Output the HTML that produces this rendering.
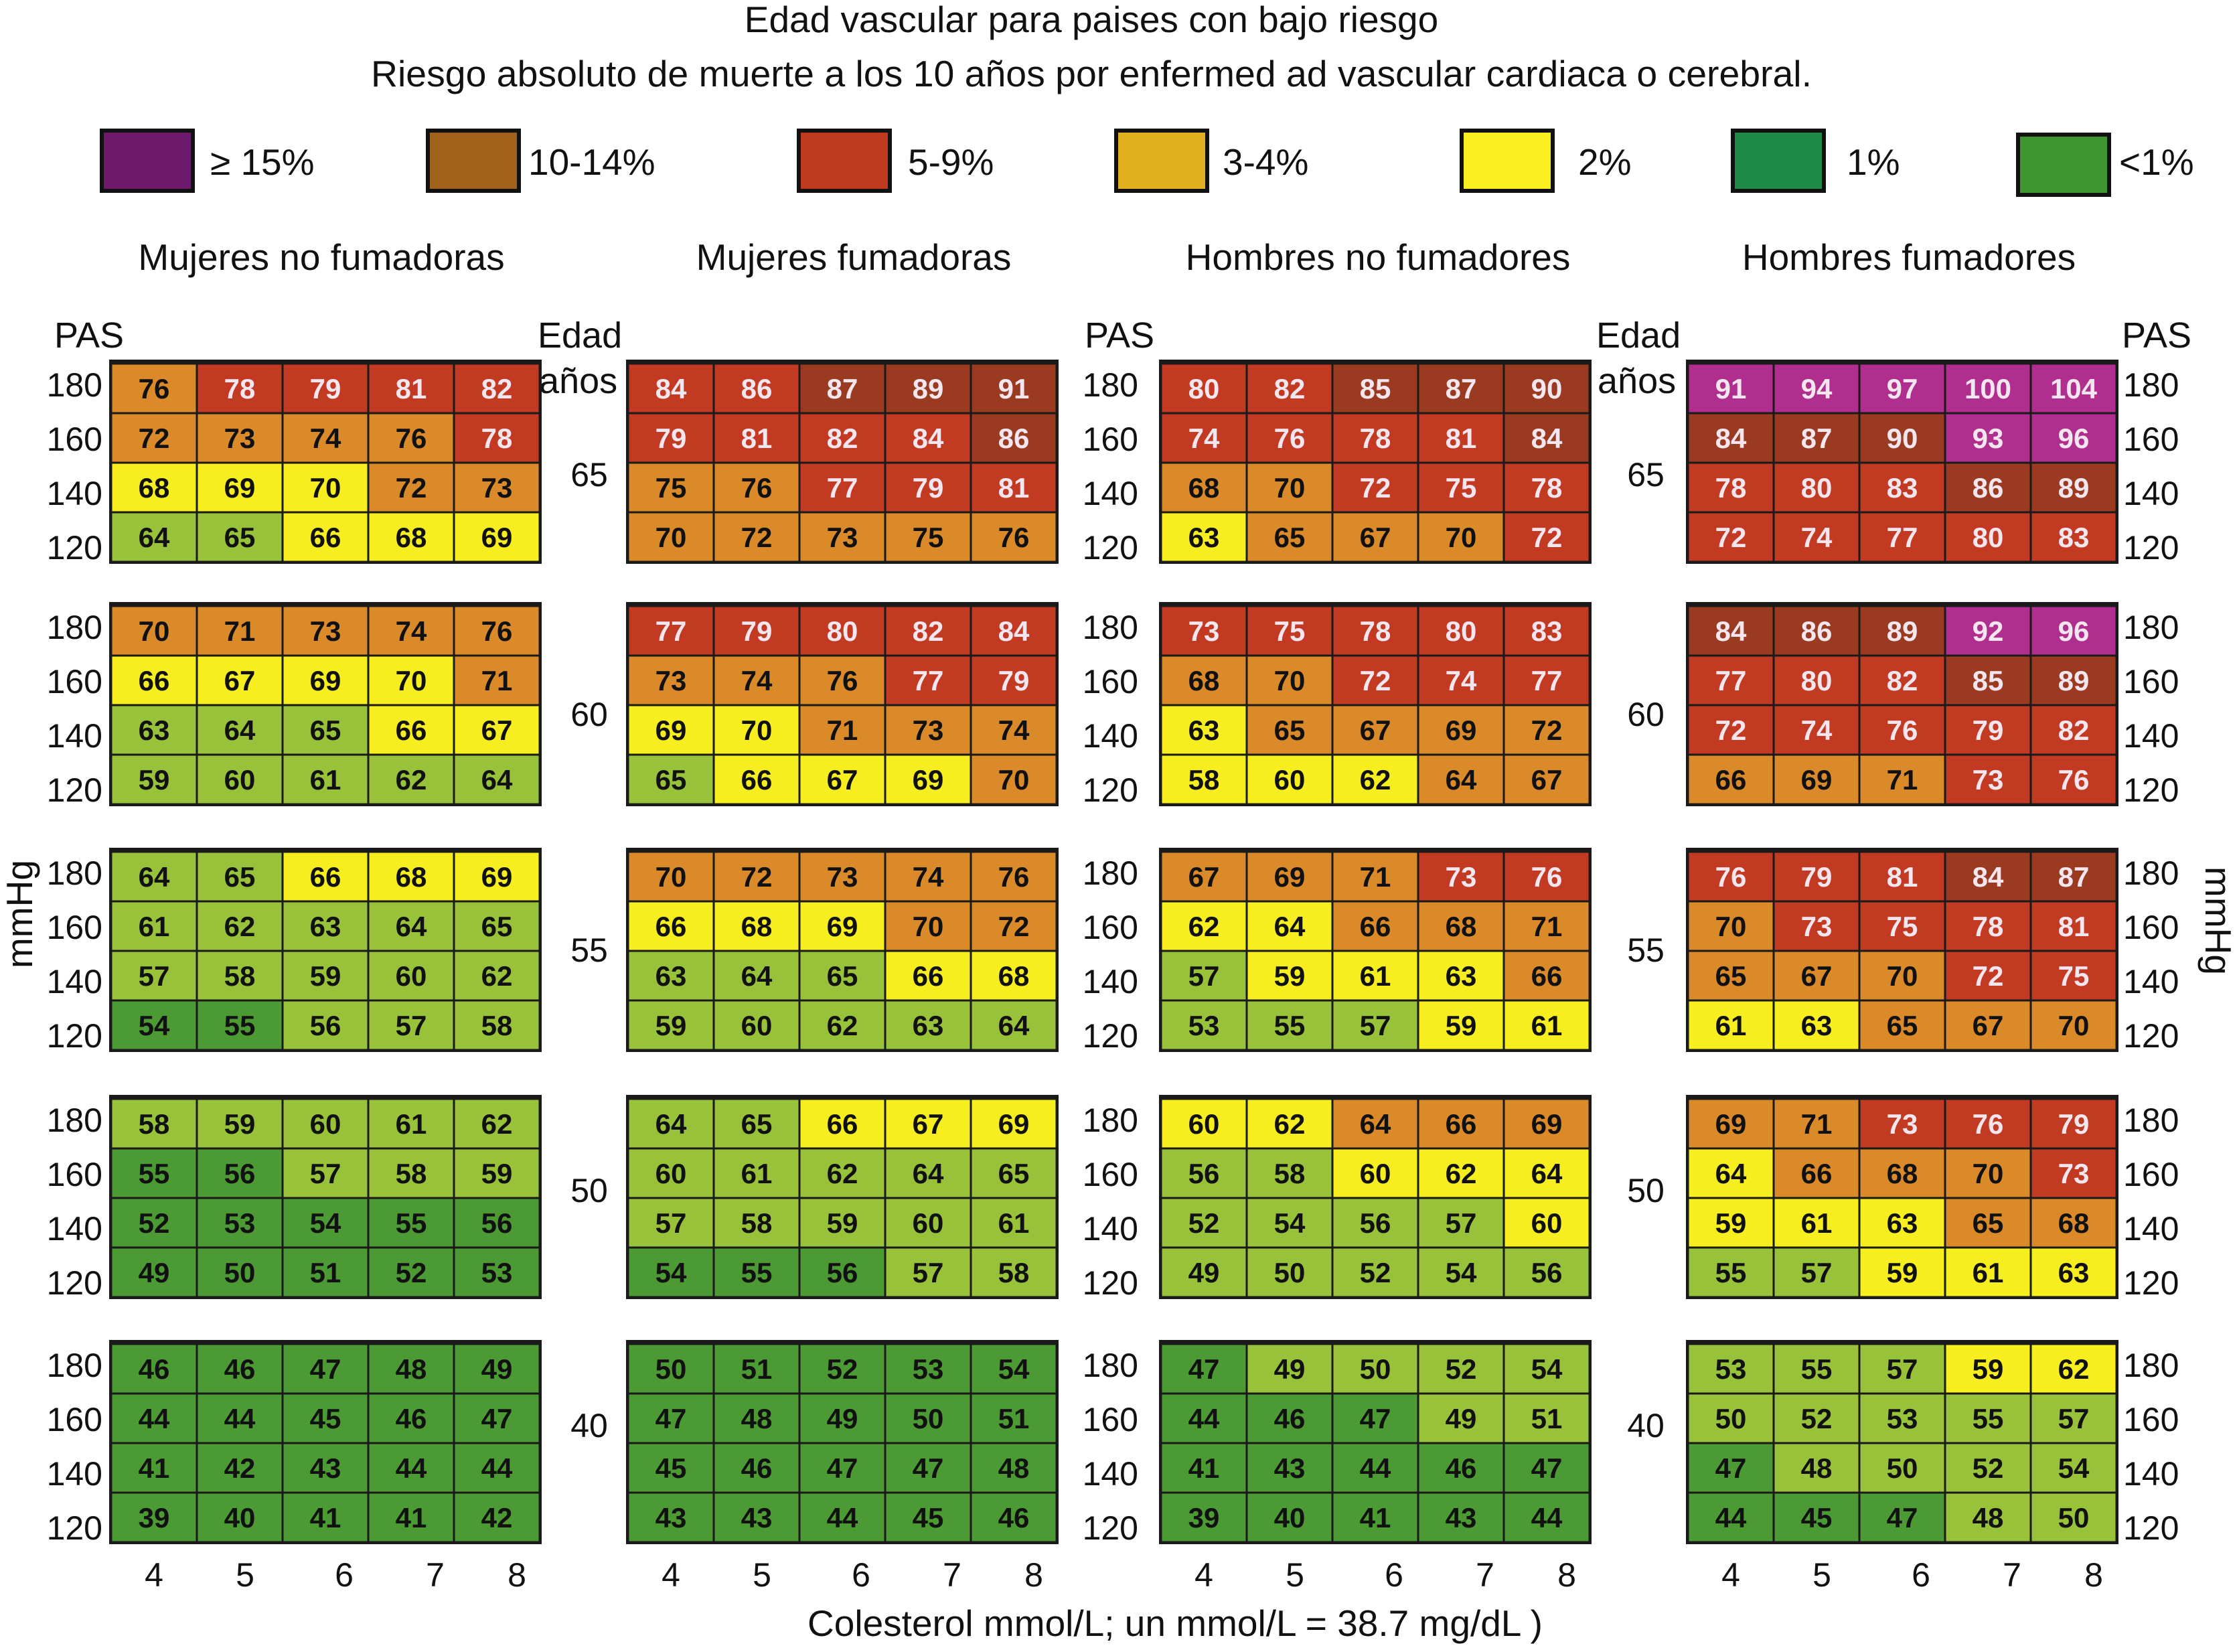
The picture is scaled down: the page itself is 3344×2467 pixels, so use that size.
<!DOCTYPE html>
<html><head><meta charset="utf-8"><style>
html,body{margin:0;padding:0;background:#fff;}
svg{display:block;}
text{font-family:"Liberation Sans",sans-serif;fill:#111;}
</style></head><body>
<svg id="chart" width="3344" height="2467" viewBox="0 0 3344 2467" xmlns="http://www.w3.org/2000/svg">
<text x="1630" y="48" font-size="55" text-anchor="middle">Edad vascular para paises con bajo riesgo</text>
<text x="1630" y="129" font-size="55" text-anchor="middle" textLength="2152" lengthAdjust="spacingAndGlyphs">Riesgo absoluto de muerte a los 10 años por enfermed ad vascular cardiaca o cerebral.</text>
<g id="legend"></g>
<g id="panels"></g>
<text x="1755" y="2443" font-size="55" text-anchor="middle">Colesterol mmol/L; un mmol/L = 38.7 mg/dL )</text>
<text x="0" y="0" font-size="55" text-anchor="middle" transform="translate(48,1365) rotate(-90)">mmHg</text>
<text x="0" y="0" font-size="55" text-anchor="middle" transform="translate(3294,1375) rotate(90)">mmHg</text>
</svg>
<script>
// ---- data ----
const panelTitles = ["Mujeres no fumadoras","Mujeres fumadoras","Hombres no fumadores","Hombres fumadores"];
const ages = ["65","60","55","50","40"];
const pasTicks = ["180","160","140","120"];
const cholTicks = ["4","5","6","7","8"];
const legendLabels = ["\u2265 15%","10-14%","5-9%","3-4%","2%","1%","<1%"];
const legendCats = ["P","B","R","O","Y","G","L"];

const valuesP1 = [
 [[76,78,79,81,82],[72,73,74,76,78],[68,69,70,72,73],[64,65,66,68,69]],
 [[70,71,73,74,76],[66,67,69,70,71],[63,64,65,66,67],[59,60,61,62,64]],
 [[64,65,66,68,69],[61,62,63,64,65],[57,58,59,60,62],[54,55,56,57,58]],
 [[58,59,60,61,62],[55,56,57,58,59],[52,53,54,55,56],[49,50,51,52,53]],
 [[46,46,47,48,49],[44,44,45,46,47],[41,42,43,44,44],[39,40,41,41,42]]];
const riskP1 = [
 ["ORRRR","OOOOR","YYYOO","LLYYY"],
 ["OOOOO","YYYYO","LLLYY","LLLLL"],
 ["LLYYY","LLLLL","LLLLL","GGLLL"],
 ["LLLLL","GGLLL","GGGGG","GGGGG"],
 ["GGGGG","GGGGG","GGGGG","GGGGG"]];

const valuesP2 = [
 [[84,86,87,89,91],[79,81,82,84,86],[75,76,77,79,81],[70,72,73,75,76]],
 [[77,79,80,82,84],[73,74,76,77,79],[69,70,71,73,74],[65,66,67,69,70]],
 [[70,72,73,74,76],[66,68,69,70,72],[63,64,65,66,68],[59,60,62,63,64]],
 [[64,65,66,67,69],[60,61,62,64,65],[57,58,59,60,61],[54,55,56,57,58]],
 [[50,51,52,53,54],[47,48,49,50,51],[45,46,47,47,48],[43,43,44,45,46]]];
const riskP2 = [
 ["RRBBB","RRRRB","OORRR","OOOOO"],
 ["RRRRR","OOORR","YYOOO","LYYYO"],
 ["OOOOO","YYYOO","LLLYY","LLLLL"],
 ["LLYYY","LLLLL","LLLLL","GGGLL"],
 ["GGGGG","GGGGG","GGGGG","GGGGG"]];

const valuesP3 = [
 [[80,82,85,87,90],[74,76,78,81,84],[68,70,72,75,78],[63,65,67,70,72]],
 [[73,75,78,80,83],[68,70,72,74,77],[63,65,67,69,72],[58,60,62,64,67]],
 [[67,69,71,73,76],[62,64,66,68,71],[57,59,61,63,66],[53,55,57,59,61]],
 [[60,62,64,66,69],[56,58,60,62,64],[52,54,56,57,60],[49,50,52,54,56]],
 [[47,49,50,52,54],[44,46,47,49,51],[41,43,44,46,47],[39,40,41,43,44]]];
const riskP3 = [
 ["RRBBB","RRRRB","OORRR","YOOOR"],
 ["RRRRR","OORRR","YOOOO","YYYOO"],
 ["OOORR","YYOOO","LYYYO","LLLYY"],
 ["YYOOO","LLYYY","LLLLY","LLLLL"],
 ["GLLLL","GGGLL","GGGGG","GGGGG"]];

const valuesP4 = [
 [[91,94,97,100,104],[84,87,90,93,96],[78,80,83,86,89],[72,74,77,80,83]],
 [[84,86,89,92,96],[77,80,82,85,89],[72,74,76,79,82],[66,69,71,73,76]],
 [[76,79,81,84,87],[70,73,75,78,81],[65,67,70,72,75],[61,63,65,67,70]],
 [[69,71,73,76,79],[64,66,68,70,73],[59,61,63,65,68],[55,57,59,61,63]],
 [[53,55,57,59,62],[50,52,53,55,57],[47,48,50,52,54],[44,45,47,48,50]]];
const riskP4 = [
 ["PPPPP","BBBPP","RRRBB","RRRRR"],
 ["BBBPP","RRRBB","RRRRR","OOORR"],
 ["RRRBB","ORRRR","OOORR","YYOOO"],
 ["OORRR","YOOOR","YYYOO","LLYYY"],
 ["LLLYY","LLLLL","GLLLL","GGGLL"]];

// ---- styling / layout ----
const cellColor = {P:"#B02E8E",B:"#9A3A20",R:"#C23A22",O:"#DB8A2A",Y:"#F6EE1E",L:"#98C23A",G:"#4C9A33"};
const legendColor = {P:"#6E1A6C",B:"#A0621A",R:"#BE3A1E",O:"#E0B020",Y:"#F8EE20",G:"#1F8A48",L:"#3F9530"};
const panelX = [166,938,1734,2521];
const blockY = [543,905,1272,1641,2007];
const blockW = 640, blockH = 296;
const cellW = blockW/5, cellH = blockH/4;
const NS = "http://www.w3.org/2000/svg";
const xCell = (p,c) => panelX[p] + c*cellW;
const yCell = (b,r) => blockY[b] + r*cellH;
const allValues = [valuesP1,valuesP2,valuesP3,valuesP4];
const allRisk = [riskP1,riskP2,riskP3,riskP4];

function mk(tag, attrs, parent, txt){
  const e = document.createElementNS(NS, tag);
  for (const k in attrs) e.setAttribute(k, attrs[k]);
  if (txt !== undefined) e.textContent = txt;
  parent.appendChild(e);
  return e;
}

// legend
const lg = document.getElementById('legend');
const legBoxX = [149,636,1190,1664,2180,2585,3011];
const legTxtX = [314,789,1356,1826,2357,2758,3165];
legendLabels.forEach((lab,i)=>{
  const y0 = i===6 ? 198 : 192;
  const r = mk('rect',{x:legBoxX[i]+3,y:y0+3,width:136,height:90,fill:legendColor[legendCats[i]],stroke:"#111","stroke-width":6},lg);
  
  
  const t = mk('text',{x:legTxtX[i],y:261,"font-size":55},lg,lab);
  
  
});

const pg = document.getElementById('panels');
// panel titles
const titleCX = [480,1275,2058,2851];
panelTitles.forEach((t,i)=>{
  const e = mk('text',{x:titleCX[i],y:403,"font-size":55,"text-anchor":"middle"},pg,t);
  
  
});
// PAS / Edad headers
[[81,"PAS"],[1620,"PAS"],[3169,"PAS"]].forEach(([x,s],i)=>{
  const e = mk('text',{x:x,y:519,"font-size":54},pg,s);
  
  
});
[[803,"Edad"],[2384,"Edad"]].forEach(([x,s],i)=>{
  const e = mk('text',{x:x,y:519,"font-size":54},pg,s);
  
  
  const e2 = mk('text',{x:x+2,y:587,"font-size":54},pg,"años");
  
  
});

// blocks
const labOff = [31,112,193,274];
for (let p=0;p<4;p++){
  for (let b=0;b<5;b++){
    const g = mk('g',{},pg);
    
    
    mk('rect',{x:panelX[p]-3,y:blockY[b]-6,width:blockW+6,height:blockH+9,fill:"#1a1a1a"},g);
    for (let r=0;r<4;r++){
      for (let c=0;c<5;c++){
        const cat = allRisk[p][b][r][c];
        const rc = mk('rect',{x:xCell(p,c)+1.5,y:yCell(b,r)+1.5,width:cellW-3,height:cellH-3,fill:cellColor[cat]},g);
        
        
        const light = (cat==="R"||cat==="B"||cat==="P");
        const tx = mk('text',{x:xCell(p,c)+cellW/2,y:yCell(b,r)+cellH/2+15,"font-size":42,"font-weight":"bold","text-anchor":"middle",
          style:"font-family:'Liberation Sans Narrow','Liberation Sans',sans-serif;fill:"+(light?"#f4e6ee":"#111")},g,String(allValues[p][b][r][c]));
        
        
      }
    }
    // row tick labels
    pasTicks.forEach((t,r)=>{
      const y = blockY[b]+labOff[r]+18;
      if (p===0 || p===2){
        const e = mk('text',{x:panelX[p]-(p===0?13:34),y:y,"font-size":50,"text-anchor":"end"},pg,t);
        
        
      }
      if (p===3){
        const e = mk('text',{x:panelX[p]+blockW+10,y:y,"font-size":50},pg,t);
        
        
      }
    });
  }
}
// age labels
const ageCX = [880,2458];
const ageCY = [708,1066,1418,1777,2128];
ages.forEach((a,b)=>{
  ageCX.forEach((x,i)=>{
    const e = mk('text',{x:x,y:ageCY[b]+18,"font-size":50,"text-anchor":"middle"},pg,a);
    
    
  });
});
// x ticks
const tickOff = [64,200,348,484,606];
for (let p=0;p<4;p++){
  cholTicks.forEach((t,i)=>{
    const e = mk('text',{x:panelX[p]+tickOff[i],y:2369,"font-size":50,"text-anchor":"middle"},pg,t);
    
    
  });
}
</script>
</body></html>
